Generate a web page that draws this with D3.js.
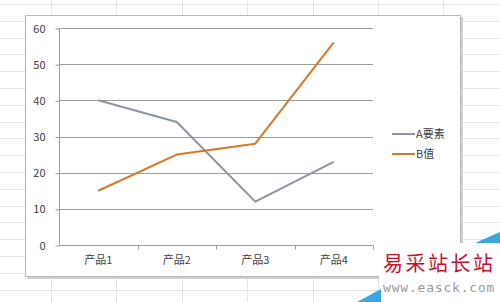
<!DOCTYPE html>
<html>
<head>
<meta charset="utf-8">
<script src="https://cdn.jsdelivr.net/npm/d3@7"></script>
<style>
  body { margin: 0; background: #fff; }
  svg { display: block; }
</style>
</head>
<body>
<script>
// chart data
const categories = ["产品1", "产品2", "产品3", "产品4"];
const seriesA = [40, 34, 12, 23];
const seriesB = [15, 25, 28, 56];
const seriesNames = ["A要素", "B值"];
const yTicks = [0, 10, 20, 30, 40, 50, 60];

const W = 500, H = 302;
const colors = ["#8d95a2", "#d6772c"];
const font = "'Noto Sans CJK SC', 'Noto Sans', sans-serif";

const svg = d3.select("body").append("svg")
  .attr("width", W)
  .attr("height", H);

// spreadsheet grid behind the chart
const sheet = svg.append("g");
d3.range(4, H, 16.8).forEach(function (y) {
  sheet.append("line")
    .attr("x1", 0).attr("x2", W)
    .attr("y1", Math.round(y) + 0.5).attr("y2", Math.round(y) + 0.5)
    .attr("stroke", "#e4e4e4");
});
d3.range(51, W, 65.4).forEach(function (x) {
  sheet.append("line")
    .attr("x1", Math.round(x) + 0.5).attr("x2", Math.round(x) + 0.5)
    .attr("y1", 0).attr("y2", H)
    .attr("stroke", "#e4e4e4");
});

// chart box with a soft shadow
svg.append("rect")
  .attr("x", 27).attr("y", 17)
  .attr("width", 436).attr("height", 262)
  .attr("fill", "#d0d0d0");
svg.append("rect")
  .attr("x", 25.5).attr("y", 15.5)
  .attr("width", 435).attr("height", 261)
  .attr("fill", "#fff")
  .attr("stroke", "#b8b8b8");

// scales
const x = d3.scaleBand()
  .domain(categories)
  .range([59, 373]);

const y = d3.scaleLinear()
  .domain([0, 60])
  .range([245, 28]);

// horizontal gridlines
svg.append("g")
  .selectAll("line")
  .data(yTicks.slice(1))
  .join("line")
  .attr("x1", x.range()[0]).attr("x2", x.range()[1])
  .attr("y1", d => Math.round(y(d)) + 0.5)
  .attr("y2", d => Math.round(y(d)) + 0.5)
  .attr("stroke", "#9c9c9c");

// Y axis
const yAxis = svg.append("g")
  .attr("transform", "translate(" + (x.range()[0] + 0.5) + ",0.5)")
  .call(d3.axisLeft(y).tickValues(yTicks).tickSize(4).tickPadding(10));
yAxis.select(".domain").attr("stroke", "#9c9c9c").attr("d", "M0," + y(60) + "V" + y(0));
yAxis.selectAll(".tick line").attr("stroke", "#9c9c9c");
yAxis.selectAll(".tick text")
  .attr("fill", "#404040")
  .style("font-family", font)
  .style("font-size", "11px");

// X axis
const xAxis = svg.append("g")
  .attr("transform", "translate(0," + (y(0) + 0.5) + ")")
  .call(d3.axisBottom(x).tickSize(0).tickPadding(11));
xAxis.select(".domain").attr("stroke", "#9c9c9c").attr("d", "M" + x.range()[0] + ",0H" + x.range()[1]);
xAxis.selectAll(".tick text")
  .attr("fill", "#404040")
  .style("font-family", font)
  .style("font-size", "11px");
// small ticks at the category boundaries
xAxis.append("g")
  .selectAll("line")
  .data(categories)
  .join("line")
  .attr("x1", d => Math.round(x(d) + x.bandwidth()) + 0.5)
  .attr("x2", d => Math.round(x(d) + x.bandwidth()) + 0.5)
  .attr("y1", 0).attr("y2", 4)
  .attr("stroke", "#9c9c9c");

// lines
const line = d3.line()
  .x((d, i) => x(categories[i]) + x.bandwidth() / 2)
  .y(d => y(d));

[seriesA, seriesB].forEach(function (s, i) {
  svg.append("path")
    .datum(s)
    .attr("fill", "none")
    .attr("stroke", colors[i])
    .attr("stroke-width", 2)
    .attr("stroke-linejoin", "round")
    .attr("d", line);
});

// legend
const legend = svg.append("g")
  .selectAll("g")
  .data(seriesNames)
  .join("g")
  .attr("transform", (d, i) => "translate(392," + (134 + i * 20) + ")");
legend.append("line")
  .attr("x1", 0).attr("x2", 23)
  .attr("stroke", (d, i) => colors[i])
  .attr("stroke-width", 2);
legend.append("text")
  .attr("x", 24)
  .attr("dy", "0.35em")
  .attr("fill", "#404040")
  .style("font-family", font)
  .style("font-size", "11px")
  .text(d => d);

// watermark corner
const wm = svg.append("g");
wm.append("rect")
  .attr("x", 379).attr("y", 243)
  .attr("width", 121).attr("height", 59)
  .attr("fill", "#fff");
wm.append("path")
  .attr("d", "M475,243L500,243L500,232Z")
  .attr("fill", "#3aa6e0");
wm.append("path")
  .attr("d", "M357,302L381,302L381,289Z")
  .attr("fill", "#3aa6e0");
wm.append("text")
  .attr("x", 383).attr("y", 271)
  .attr("fill", "#c8102e")
  .style("font-family", "'Noto Sans CJK SC', serif")
  .style("font-size", "20px")
  .attr("letter-spacing", "2.5")
  .text("易采站长站");
wm.append("text")
  .attr("x", 383).attr("y", 292)
  .attr("fill", "#9a9a9a")
  .style("font-family", "'DejaVu Sans Mono', monospace")
  .style("font-size", "13px")
  .attr("letter-spacing", "0.8")
  .text("www.easck.com");
</script>
</body>
</html>
